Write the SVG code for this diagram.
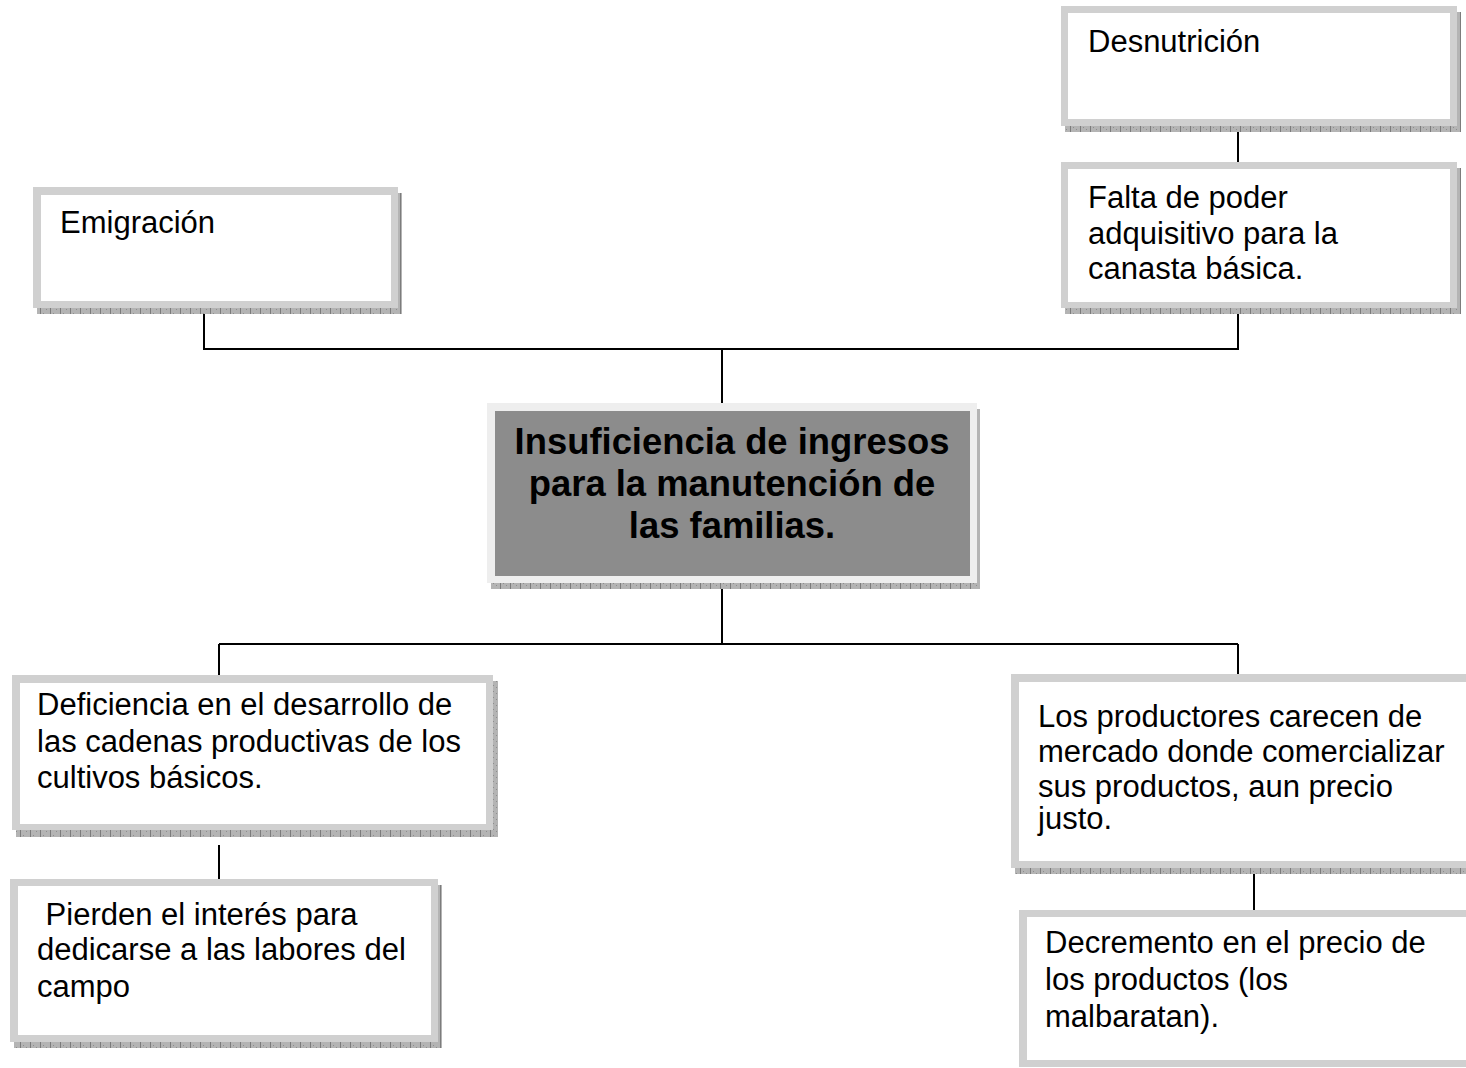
<svg xmlns="http://www.w3.org/2000/svg" width="1466" height="1068" viewBox="0 0 1466 1068">
<style>
.fr{fill:#d0d0d0}
.in{fill:#ffffff}
.sh{fill:url(#hatch)}
.t{font-family:"Liberation Sans",Arial,sans-serif;font-size:31px;fill:#000}
.tb{font-family:"Liberation Sans",Arial,sans-serif;font-size:36.4px;font-weight:bold;fill:#000;text-anchor:middle}
.c{fill:none;stroke:#000;stroke-width:2}
</style>
<defs>
<pattern id="hatch" width="10" height="6" patternUnits="userSpaceOnUse">
<rect width="10" height="6" fill="#b4b4b4"/>
<rect x="0" y="0" width="1" height="6" fill="#7c7c7c"/>
<rect x="3" y="1" width="1" height="1" fill="#8e8e8e"/>
<rect x="6" y="3" width="1" height="1" fill="#8e8e8e"/>
</pattern>
</defs>
<rect width="1466" height="1068" fill="#fff"/>
<g id="connectors">
<path class="c" d="M1238,126 V162"/>
<path class="c" d="M204,312 V349 H1238"/>
<path class="c" d="M1238,312 V350"/>
<path class="c" d="M722,349 V403"/>
<path class="c" d="M722,587 V644"/>
<path class="c" d="M219,644 H1238"/>
<path class="c" d="M219,644 V675"/>
<path class="c" d="M1238,644 V674"/>
<path class="c" d="M219,845 V883"/>
<path class="c" d="M1254,873 V910"/>
</g>
<g id="desnutricion">
<rect class="sh" x="1065" y="12" width="396" height="120"/>
<rect class="fr" x="1061" y="6" width="396" height="120"/>
<rect class="in" x="1068" y="13" width="382" height="106"/>
<text class="t" x="1088" y="52">Desnutrición</text>
</g>
<g id="falta">
<rect class="sh" x="1065" y="168" width="396" height="146"/>
<rect class="fr" x="1061" y="162" width="396" height="146"/>
<rect class="in" x="1068" y="169" width="382" height="133"/>
<text class="t" x="1088" y="208">Falta de poder</text>
<text class="t" x="1088" y="244">adquisitivo para la</text>
<text class="t" x="1088" y="279">canasta básica.</text>
</g>
<g id="emigracion">
<rect class="sh" x="37" y="193" width="365" height="121"/>
<rect class="fr" x="33" y="187" width="365" height="121"/>
<rect class="in" x="41" y="195" width="350" height="106"/>
<text class="t" x="60" y="233">Emigración</text>
</g>
<g id="central">
<rect class="sh" x="491" y="409" width="489" height="180"/>
<rect x="487" y="403" width="490" height="180" fill="#eeeeee"/>
<rect x="495" y="411" width="475" height="165" fill="#8c8c8c"/>
<text class="tb" x="732" y="454">Insuficiencia de ingresos</text>
<text class="tb" x="732" y="496">para la manutención de</text>
<text class="tb" x="732" y="538">las familias.</text>
</g>
<g id="deficiencia">
<rect class="sh" x="16" y="681" width="482" height="156"/>
<rect class="fr" x="12" y="675" width="481" height="155"/>
<rect class="in" x="20" y="683" width="466" height="141"/>
<text class="t" x="37" y="715">Deficiencia en el desarrollo de</text>
<text class="t" x="37" y="752">las cadenas productivas de los</text>
<text class="t" x="37" y="788">cultivos básicos.</text>
</g>
<g id="productores">
<rect class="sh" x="1015" y="680" width="460" height="194"/>
<rect class="fr" x="1011" y="674" width="460" height="194"/>
<rect class="in" x="1019" y="682" width="450" height="179"/>
<text class="t" x="1038" y="727">Los productores carecen de</text>
<text class="t" x="1038" y="762">mercado donde comercializar</text>
<text class="t" x="1038" y="797">sus productos, aun precio</text>
<text class="t" x="1038" y="829">justo.</text>
</g>
<g id="pierden">
<rect class="sh" x="14" y="885" width="428" height="163"/>
<rect class="fr" x="10" y="879" width="428" height="163"/>
<rect class="in" x="18" y="886" width="413" height="149"/>
<text class="t" x="37" y="925" xml:space="preserve"> Pierden el interés para</text>
<text class="t" x="37" y="960">dedicarse a las labores del</text>
<text class="t" x="37" y="997">campo</text>
</g>
<g id="decremento">
<rect class="fr" x="1019" y="910" width="460" height="157"/>
<rect class="in" x="1027" y="917" width="450" height="143"/>
<text class="t" x="1045" y="953">Decremento en el precio de</text>
<text class="t" x="1045" y="990">los productos (los</text>
<text class="t" x="1045" y="1027">malbaratan).</text>
</g>
</svg>
